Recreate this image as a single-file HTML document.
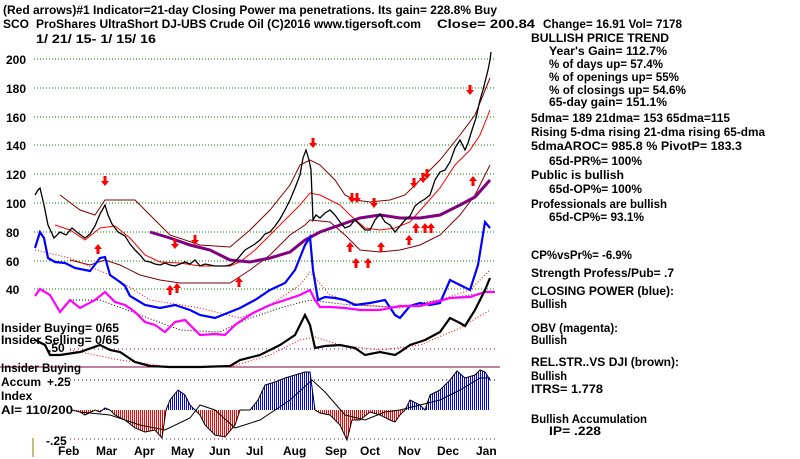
<!DOCTYPE html>
<html><head><meta charset="utf-8"><style>
html,body{margin:0;padding:0;background:#fff;}
svg{display:block;font-family:"Liberation Sans",Arial,sans-serif;font-weight:bold;}
</style></head><body>
<svg width="800" height="459" viewBox="0 0 800 459" xmlns="http://www.w3.org/2000/svg">
<defs>
<pattern id="pb" width="2" height="4" patternUnits="userSpaceOnUse"><rect width="1" height="4" fill="#0000ff"/></pattern>
<pattern id="pr" width="2" height="4" patternUnits="userSpaceOnUse"><rect width="1" height="4" fill="#ff0000"/></pattern>
<clipPath id="top"><rect x="0" y="300" width="800" height="110"/></clipPath>
<clipPath id="bot"><rect x="0" y="410" width="800" height="60"/></clipPath>
<path id="dn" d="M-1.5,-8 h3 v5 h2.5 l-4,5 l-4,-5 h2.5z"/>
<path id="up" d="M-1.5,8 h3 v-5 h2.5 l-4,-5 l-4,5 h2.5z"/>
</defs>
<rect width="800" height="459" fill="#fff"/>
<g font-size="12" fill="#000">
<text x="3" y="14" textLength="494" lengthAdjust="spacingAndGlyphs">(Red arrows)#1 Indicator=21-day Closing Power ma penetrations. Its gain= 228.8% Buy</text>
<text x="3" y="28">SCO</text>
<text x="36" y="28" textLength="385" lengthAdjust="spacingAndGlyphs">ProShares UltraShort DJ-UBS Crude Oil  (C)2016 www.tigersoft.com</text>
<text x="437" y="28" textLength="98" lengthAdjust="spacingAndGlyphs">Close=  200.84</text>
<text x="543" y="28" textLength="139" lengthAdjust="spacingAndGlyphs">Change= 16.91 Vol= 7178</text>
<text x="36" y="43" textLength="120" lengthAdjust="spacingAndGlyphs">1/ 21/ 15- 1/ 15/ 16</text>
<text x="531" y="42" textLength="138" lengthAdjust="spacingAndGlyphs">BULLISH PRICE TREND</text>
<text x="549" y="55" textLength="118" lengthAdjust="spacingAndGlyphs">Year's Gain= 112.7%</text>
<text x="549" y="68" textLength="114" lengthAdjust="spacingAndGlyphs">% of days up= 57.4%</text>
<text x="549" y="81" textLength="130" lengthAdjust="spacingAndGlyphs">% of openings up= 55%</text>
<text x="549" y="94" textLength="137" lengthAdjust="spacingAndGlyphs">% of closings up= 54.6%</text>
<text x="549" y="106" textLength="118" lengthAdjust="spacingAndGlyphs">65-day gain= 151.1%</text>
<text x="531" y="122" textLength="199" lengthAdjust="spacingAndGlyphs">5dma= 189 21dma= 153 65dma=115</text>
<text x="531" y="136" textLength="234" lengthAdjust="spacingAndGlyphs">Rising 5-dma  rising 21-dma  rising 65-dma</text>
<text x="531" y="150" textLength="211" lengthAdjust="spacingAndGlyphs">5dmaAROC= 985.8 %  PivotP= 183.3</text>
<text x="549" y="165" textLength="93" lengthAdjust="spacingAndGlyphs">65d-PR%= 100%</text>
<text x="531" y="179" textLength="93" lengthAdjust="spacingAndGlyphs">Public is bullish</text>
<text x="549" y="193" textLength="93" lengthAdjust="spacingAndGlyphs">65d-OP%= 100%</text>
<text x="531" y="208" textLength="136" lengthAdjust="spacingAndGlyphs">Professionals are bullish</text>
<text x="549" y="221" textLength="95" lengthAdjust="spacingAndGlyphs">65d-CP%= 93.1%</text>
<text x="531" y="259" textLength="101" lengthAdjust="spacingAndGlyphs">CP%vsPr%= -6.9%</text>
<text x="531" y="277" textLength="143" lengthAdjust="spacingAndGlyphs">Strength Profess/Pub= .7</text>
<text x="531" y="295" textLength="143" lengthAdjust="spacingAndGlyphs">CLOSING POWER (blue):</text>
<text x="531" y="308" textLength="36" lengthAdjust="spacingAndGlyphs">Bullish</text>
<text x="531" y="332" textLength="87" lengthAdjust="spacingAndGlyphs">OBV (magenta):</text>
<text x="531" y="344" textLength="36" lengthAdjust="spacingAndGlyphs">Bullish</text>
<text x="531" y="366" textLength="148" lengthAdjust="spacingAndGlyphs">REL.STR..VS DJI (brown):</text>
<text x="531" y="380" textLength="36" lengthAdjust="spacingAndGlyphs">Bullish</text>
<text x="531" y="393" textLength="72" lengthAdjust="spacingAndGlyphs">ITRS= 1.778</text>
<text x="531" y="423" textLength="116" lengthAdjust="spacingAndGlyphs">Bullish Accumulation</text>
<text x="549" y="435" textLength="52" lengthAdjust="spacingAndGlyphs">IP=  .228</text>
<text x="6" y="64">200</text><text x="6" y="93">180</text><text x="6" y="122">160</text>
<text x="6" y="150">140</text><text x="6" y="179">120</text><text x="6" y="208">100</text>
<text x="6" y="237">80</text><text x="6" y="266">60</text><text x="6" y="294">40</text>
</g>
<g stroke="#008000" stroke-width="1" stroke-dasharray="1,2">
<line x1="34" y1="59" x2="495" y2="59"/><line x1="34" y1="88" x2="495" y2="88"/>
<line x1="34" y1="117" x2="495" y2="117"/><line x1="34" y1="145" x2="495" y2="145"/>
<line x1="34" y1="174" x2="495" y2="174"/><line x1="34" y1="203" x2="495" y2="203"/>
<line x1="34" y1="232" x2="495" y2="232"/><line x1="34" y1="261" x2="495" y2="261"/>
<line x1="34" y1="289" x2="495" y2="289"/>
</g>
<line x1="70" y1="349" x2="495" y2="349" stroke="#800080" stroke-dasharray="1,3"/>
<line x1="70" y1="380" x2="495" y2="380" stroke="#000" stroke-dasharray="1,3"/>
<line x1="70" y1="439" x2="495" y2="439" stroke="#800080" stroke-dasharray="1,3"/>
<line x1="0" y1="367" x2="500" y2="367" stroke="#800040" stroke-width="1"/>
<line x1="33" y1="438" x2="33" y2="457" stroke="#808000"/>
<g fill="none">
<polyline stroke="#800000" points="60,195 80,210 95,215 105,200 120,200 135,200 150,215 170,235 200,245 230,247 250,230 270,210 290,185 300,165 310,160 320,165 335,180 345,195 355,200 370,202 390,200 405,195 420,180 440,160 460,135 475,115 490,78"/>
<polyline stroke="#ff0000" points="55,225 70,230 85,240 100,228 115,226 130,238 145,255 160,262 180,263 200,266 230,266 240,262 255,250 270,235 285,220 300,205 310,193 320,195 330,200 340,205 350,215 365,228 380,230 395,228 410,222 425,205 440,188 455,165 470,150 480,135 490,110"/>
<polyline stroke="#800000" points="70,260 90,265 105,260 120,265 140,275 160,280 180,283 200,283 230,283 250,270 270,255 290,235 305,225 310,220 330,222 345,235 360,250 380,252 400,250 420,245 440,235 460,215 475,195 490,165"/>
<polyline stroke="#800080" stroke-width="3" points="150,232 170,238 190,245 210,250 230,260 250,262 270,258 290,252 305,240 320,232 340,225 360,218 380,215 400,218 420,218 440,215 460,205 475,197 490,180"/>
<polyline stroke="#ff0000" stroke-dasharray="1,2" points="35,250 70,258 110,275 150,300 200,308 240,318 270,305 300,285 310,272 330,295 360,305 400,308 440,300 470,290 490,270"/>
<polyline stroke="#000" stroke-dasharray="1,2" points="70,300 100,300 140,315 180,330 220,332 245,320 280,308 310,300 350,305 400,307 450,298 490,292"/>
<polyline stroke="#ff0000" stroke-dasharray="1,2" points="70,350 120,360 170,367 230,367 270,355 300,340 315,337 340,345 380,350 420,345 460,328 490,310"/>
<polyline stroke="#000" stroke-width="1.3" points="35,195 38,190 40,188 44,205 48,225 54,238 60,232 66,235 72,228 78,233 85,238 90,234 95,226 100,214 105,205 108,215 112,224 118,232 125,236 130,244 135,250 140,255 145,261 150,262 155,264 160,265 165,263 170,265 175,266 180,264 185,262 190,264 195,260 200,266 205,264 210,265 215,266 220,266 225,266 230,265 235,262 240,256 245,250 250,247 255,244 260,240 265,234 270,232 275,226 280,219 285,210 290,200 295,188 300,175 303,158 306,150 309,160 311,170 313,220 316,215 320,218 325,213 330,210 335,215 340,222 345,228 350,226 355,220 360,225 365,230 370,230 375,220 380,214 385,222 390,225 395,232 400,226 405,220 410,216 415,206 420,202 425,199 430,195 435,180 440,172 445,170 450,162 455,148 460,140 465,150 468,143 472,130 476,118 480,100 483,90 486,78 488,70 490,60 491,52"/>
<polyline stroke="#0000ff" stroke-width="2.2" points="35,248 40,232 44,238 48,258 55,262 65,263 75,268 90,271 100,258 105,257 110,275 120,282 125,286 130,296 145,305 160,308 175,305 190,310 200,315 215,318 240,308 255,300 270,290 285,283 295,270 305,245 310,237 313,270 318,300 325,297 335,298 345,300 355,305 370,303 385,300 395,315 400,318 410,306 420,303 430,305 440,303 450,280 460,285 470,290 478,265 485,222 490,228"/>
<polyline stroke="#ff00ff" stroke-width="2.2" points="35,296 40,289 50,295 60,312 70,300 80,308 95,300 105,292 115,302 125,305 135,312 145,322 155,325 165,332 175,322 185,320 200,335 215,334 225,335 235,325 245,318 255,312 270,305 285,300 300,295 310,290 315,300 320,307 330,307 345,308 360,310 380,310 400,306 420,306 440,301 450,298 470,297 485,292 495,292"/>
<polyline stroke="#000" stroke-width="2.2" points="35,340 45,345 50,355 60,355 80,352 100,345 110,350 120,352 135,362 150,366 170,367 200,367 230,366 240,360 260,355 280,345 295,335 305,315 310,325 315,348 325,346 340,345 355,348 365,355 380,352 395,355 400,352 410,345 425,340 440,332 450,318 460,323 465,326 475,310 485,290 490,278"/>
</g>
<g>
<polygon clip-path="url(#top)" fill="url(#pb)" points="72,410 80,412 85,415 95,410 100,412 105,408 110,410 115,415 125,420 135,428 145,432 155,430 162,438 166,410 170,400 178,390 185,395 190,405 195,410 200,415 205,425 215,435 225,437 235,425 240,410 250,410 258,400 265,385 275,382 285,378 295,375 305,372 310,372 315,410 320,413 330,415 340,425 347,440 352,420 360,420 370,412 380,415 390,420 395,422 400,415 405,410 410,400 420,405 425,410 430,395 440,390 450,380 457,371 465,378 475,375 480,370 485,372 490,380 490,410"/>
<polygon clip-path="url(#bot)" fill="url(#pr)" points="72,410 80,412 85,415 95,410 100,412 105,408 110,410 115,415 125,420 135,428 145,432 155,430 162,438 166,410 170,400 178,390 185,395 190,405 195,410 200,415 205,425 215,435 225,437 235,425 240,410 250,410 258,400 265,385 275,382 285,378 295,375 305,372 310,372 315,410 320,413 330,415 340,425 347,440 352,420 360,420 370,412 380,415 390,420 395,422 400,415 405,410 410,400 420,405 425,410 430,395 440,390 450,380 457,371 465,378 475,375 480,370 485,372 490,380 490,410"/>
<polyline fill="none" stroke="#000" stroke-width="1" points="72,410 80,412 85,415 95,410 100,412 105,408 110,410 115,415 125,420 135,428 145,432 155,430 162,438 166,410 170,400 178,390 185,395 190,405 195,410 200,415 205,425 215,435 225,437 235,425 240,410 250,410 258,400 265,385 275,382 285,378 295,375 305,372 310,372 315,410 320,413 330,415 340,425 347,440 352,420 360,420 370,412 380,415 390,420 395,422 400,415 405,410 410,400 420,405 425,410 430,395 440,390 450,380 457,371 465,378 475,375 480,370 485,372 490,380"/>
<polyline fill="none" stroke="#000" stroke-width="1" points="80,412 110,415 140,425 165,430 190,418 200,405 215,410 235,428 260,420 290,400 312,380 325,392 345,415 365,420 385,412 400,410 420,405 440,400 460,390 480,378 490,378"/>
</g>
<g fill="#ff0000">
<use href="#dn" x="105" y="184"/><use href="#dn" x="175" y="247"/><use href="#dn" x="195" y="243"/>
<use href="#dn" x="313" y="146"/><use href="#dn" x="352" y="201"/><use href="#dn" x="357" y="201"/>
<use href="#dn" x="374" y="206"/><use href="#dn" x="414" y="186"/><use href="#dn" x="423" y="181"/>
<use href="#dn" x="427" y="177"/><use href="#dn" x="470" y="93"/>
<use href="#up" x="98" y="246"/><use href="#up" x="170" y="287"/><use href="#up" x="177" y="285"/>
<use href="#up" x="239" y="279"/><use href="#up" x="350" y="244"/><use href="#up" x="356" y="260"/>
<use href="#up" x="368" y="260"/><use href="#up" x="381" y="244"/><use href="#up" x="409" y="237"/>
<use href="#up" x="416" y="225"/><use href="#up" x="425" y="225"/><use href="#up" x="431" y="225"/>
<use href="#up" x="473" y="178"/>
</g>
<g font-size="12" fill="#000">
<text x="1" y="332" textLength="118" lengthAdjust="spacingAndGlyphs">Insider Buying= 0/65</text>
<text x="1" y="344" textLength="118" lengthAdjust="spacingAndGlyphs">Insider Selling= 0/65</text>
<text x="48" y="352">.50</text>
<text x="1" y="372" textLength="80" lengthAdjust="spacingAndGlyphs">Insider Buying</text>
<text x="1" y="386">Accum</text><text x="47" y="386">+.25</text>
<text x="1" y="400">Index</text>
<text x="1" y="414" textLength="72" lengthAdjust="spacingAndGlyphs">AI= 110/200</text>
<text x="46" y="445">-.25</text>
<text x="58" y="455">Feb</text><text x="96" y="455">Mar</text><text x="134" y="455">Apr</text>
<text x="171" y="455">May</text><text x="209" y="455">Jun</text><text x="246" y="455">Jul</text>
<text x="283" y="455">Aug</text><text x="325" y="455">Sep</text><text x="360" y="455">Oct</text>
<text x="398" y="455">Nov</text><text x="437" y="455">Dec</text><text x="476" y="455">Jan</text>
</g>
</svg>
</body></html>
